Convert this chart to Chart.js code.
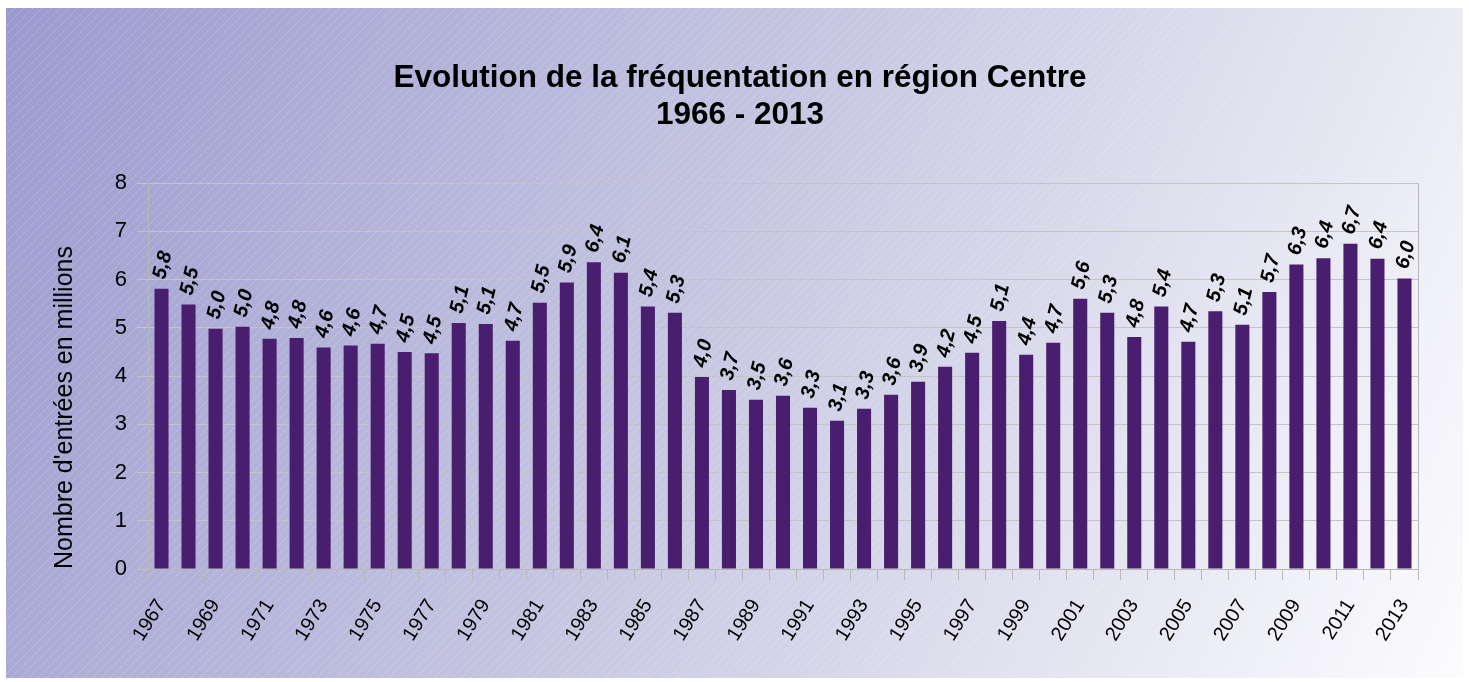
<!DOCTYPE html>
<html>
<head>
<meta charset="utf-8">
<script src="https://cdn.jsdelivr.net/npm/chart.js@4.4.0/dist/chart.umd.min.js"></script>
<style>
  body { margin: 0; background: #fff; }
  #box { position: absolute; left: 6px; top: 8px; width: 1457px; height: 670px; }
</style>
</head>
<body>
<div id="box"><canvas id="chart"></canvas></div>
<script>
// data (millions of admissions)
const years = [
  "1967","1968","1969","1970","1971","1972","1973","1974","1975","1976",
  "1977","1978","1979","1980","1981","1982","1983","1984","1985","1986",
  "1987","1988","1989","1990","1991","1992","1993","1994","1995","1996",
  "1997","1998","1999","2000","2001","2002","2003","2004","2005","2006",
  "2007","2008","2009","2010","2011","2012","2013"
];
const entries = [
  5.81, 5.48, 4.98, 5.02, 4.77, 4.79, 4.59, 4.63, 4.67, 4.50,
  4.47, 5.10, 5.08, 4.73, 5.52, 5.94, 6.36, 6.14, 5.44, 5.31,
  3.98, 3.71, 3.51, 3.59, 3.34, 3.07, 3.32, 3.61, 3.88, 4.19,
  4.48, 5.14, 4.44, 4.69, 5.60, 5.31, 4.81, 5.44, 4.71, 5.34,
  5.06, 5.74, 6.31, 6.44, 6.74, 6.43, 6.02
];
const titleLines = ["Evolution de la fréquentation en région Centre", "1966 - 2013"];
const yTitle = "Nombre d'entrées en millions";

const FONT = '"Liberation Sans", Arial, sans-serif';
Chart.defaults.font.family = FONT;
Chart.defaults.color = "#000";

// gradient + diagonal stripes behind everything, and the two-line title
const backdrop = {
  id: "backdrop",
  beforeDraw(chart) {
    const { ctx, width, height } = chart;
    ctx.save();
    const g = ctx.createLinearGradient(0, 0, width, height);
    g.addColorStop(0, "#9a9acf");
    g.addColorStop(0.5, "#c9c9e3");
    g.addColorStop(1, "#fcfcfe");
    ctx.fillStyle = g;
    ctx.fillRect(0, 0, width, height);

    ctx.strokeStyle = "rgba(255,255,255,0.35)";
    ctx.lineWidth = 1;
    ctx.setLineDash([1, 1]);
    for (let x = -height; x < width; x += 9) {
      ctx.beginPath();
      ctx.moveTo(x, height);
      ctx.lineTo(x + height, 0);
      ctx.stroke();
    }
    ctx.setLineDash([]);

    ctx.fillStyle = "#000";
    ctx.font = "bold 31.5px " + FONT;
    ctx.textAlign = "center";
    ctx.textBaseline = "alphabetic";
    ctx.fillText(titleLines[0], 734, 79);
    ctx.fillText(titleLines[1], 734, 116);
    ctx.restore();
  }
};

// slanted value labels above the bars
const valueLabels = {
  id: "valueLabels",
  afterDatasetsDraw(chart) {
    const ctx = chart.ctx;
    const meta = chart.getDatasetMeta(0);
    ctx.save();
    ctx.font = "italic bold 20px " + FONT;
    ctx.fillStyle = "#000";
    ctx.textAlign = "left";
    ctx.textBaseline = "middle";
    meta.data.forEach((bar, i) => {
      ctx.save();
      ctx.translate(bar.x - 2, bar.y - 10);
      ctx.rotate(-76 * Math.PI / 180);
      ctx.fillText(entries[i].toFixed(1).replace(".", ","), 0, 0);
      ctx.restore();
    });
    ctx.restore();
  }
};

new Chart(document.getElementById("chart"), {
  type: "bar",
  data: {
    labels: years,
    datasets: [{
      data: entries,
      backgroundColor: "#4a1e6e",
      categoryPercentage: 1,
      barPercentage: 0.52
    }]
  },
  plugins: [backdrop, valueLabels],
  options: {
    responsive: true,
    maintainAspectRatio: false,
    animation: false,
    layout: { padding: { left: 44, right: 45, top: 175, bottom: 9 } },
    plugins: { legend: { display: false }, tooltip: { enabled: false } },
    scales: {
      x: {
        grid: { drawOnChartArea: false, color: "#b8b8b8", tickLength: 11, offset: true },
        border: { color: "#b8b8b8" },
        ticks: {
          autoSkip: false, maxRotation: 58, minRotation: 58, padding: 15,
          font: { size: 20 },
          callback: (v, i) => (i % 2 === 0 ? years[i] : "")
        },
        afterFit: s => { s.height = 100; }
      },
      y: {
        min: 0, max: 8,
        ticks: { stepSize: 1, padding: 10, font: { size: 22 } },
        grid: { color: "#c4c4c4", tickLength: 11 },
        border: { color: "#b8b8b8" },
        title: { display: true, text: yTitle, align: "start", font: { size: 25 }, padding: 0 },
        afterFit: s => { s.width = 98; }
      },
      y2: {
        position: "right", min: 0, max: 8,
        grid: { display: false },
        ticks: { display: false },
        border: { color: "#b8b8b8" },
        afterFit: s => { s.width = 0; }
      }
    }
  }
});
</script>
</body>
</html>
